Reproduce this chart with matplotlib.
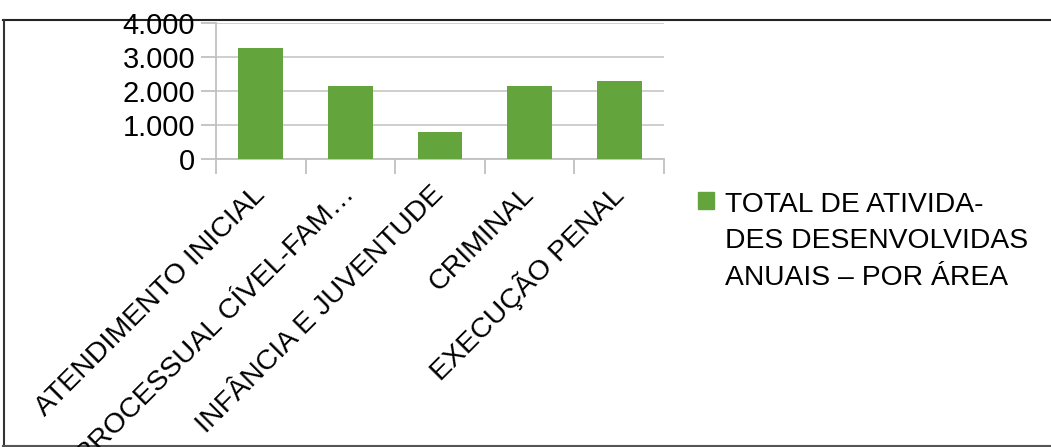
import matplotlib.pyplot as plt
from matplotlib.lines import Line2D
from matplotlib.patches import Patch
from matplotlib.ticker import FuncFormatter, FixedLocator

plt.rcParams['font.family'] = ['Liberation Sans', 'DejaVu Sans']

# dados
areas = ['ATENDIMENTO INICIAL', 'PROCESSUAL CÍVEL-FAM…', 'INFÂNCIA E JUVENTUDE',
         'CRIMINAL', 'EXECUÇÃO PENAL']
totais = [3250, 2140, 790, 2140, 2290]
serie = 'TOTAL DE ATIVIDA-\nDES DESENVOLVIDAS\nANUAIS – POR ÁREA'

verde = '#63a53c'
cinza = '#c0c0c0'

fig = plt.figure(figsize=(10.51, 4.47), dpi=100)
ax = fig.add_axes([0.2055, 0.6443, 0.4263, 0.3049])

x = list(range(len(areas)))
ax.bar(x, totais, width=0.5, color=verde, zorder=3)

ax.set_xlim(-0.5, len(areas) - 0.5)
ax.set_ylim(0, 4000)
ax.set_yticks([0, 1000, 2000, 3000, 4000])
ax.yaxis.set_major_formatter(FuncFormatter(lambda v, p: f'{int(v):,}'.replace(',', '.')))
ax.grid(axis='y', color='#cccccc', lw=1.3, zorder=0)

ax.set_xticks(x)
ax.set_xticklabels(areas, rotation=45, ha='right', va='center',
                   rotation_mode='anchor', fontsize=20.5)
ax.tick_params(axis='x', length=0, pad=23)
ax.xaxis.set_minor_locator(FixedLocator([i - 0.5 for i in range(len(areas) + 1)]))
ax.tick_params(axis='x', which='minor', length=11, color=cinza, width=1.3)
ax.tick_params(axis='y', length=11, color=cinza, width=1.3, labelsize=21, pad=4)

for s in ['top', 'right']:
    ax.spines[s].set_visible(False)
for s in ['left', 'bottom']:
    ax.spines[s].set_color(cinza)
    ax.spines[s].set_linewidth(1.3)

# legenda
leg = ax.legend([Patch(color=verde)], [serie], loc='upper left',
                bbox_to_anchor=(0.653, 0.596), bbox_transform=fig.transFigure,
                frameon=False, fontsize=20.3, handlelength=0.58, handleheight=0.58,
                handletextpad=0.4, borderaxespad=0, labelspacing=0)
for col in leg._legend_handle_box.get_children():
    for linha in col.get_children():
        linha.align = 'top'
for t in leg.get_texts():
    t.set_linespacing(1.52)

# moldura
fig.add_artist(Line2D([0.003, 1], [0.955, 0.955], color='#222222', lw=1.5, zorder=0))
fig.add_artist(Line2D([0.0035, 0.0035], [0.0, 0.955], color='#333333', lw=1.5, zorder=0))
fig.add_artist(Line2D([0.003, 1], [0.002, 0.002], color='#555555', lw=1.5, zorder=0))

fig.savefig('out.png', dpi=100)
